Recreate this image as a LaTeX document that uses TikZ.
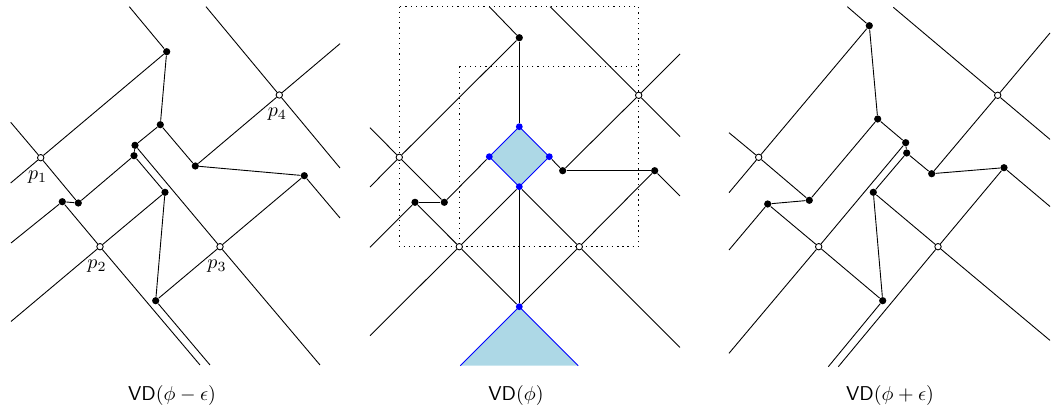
\documentclass[tikz,border=0pt]{standalone}
\usetikzlibrary{backgrounds}
\definecolor{cellblue}{RGB}{173,216,230}
\begin{document}
\begin{tikzpicture}[x=0.5pt,y=-0.5pt,
  edge/.style={line width=0.45pt},
  bdot/.style={circle,fill=black,inner sep=0pt,minimum size=3.6pt},
  odot/.style={circle,draw=black,fill=white,line width=0.45pt,inner sep=0pt,minimum size=3.2pt},
  bldot/.style={circle,fill=blue,inner sep=0pt,minimum size=3.4pt},
  lbl/.style={inner sep=0pt},
  framebox/.style={dotted,line width=0.6pt},
  cell/.style={fill=cellblue,draw=blue,line width=0.45pt}]
\useasboundingbox (0,0) rectangle (1051,410);

% ---------------- panel 1 ----------------
\node[bdot] (A1) at (166.7,51.7) {};
\node[odot] (p1) at (40.7,157.7) {};
\node[bdot] (B1) at (78.3,203) {};
\node[bdot] (C1) at (62.3,201.7) {};
\node[bdot] (D21) at (134,155.7) {};
\node[bdot] (D11) at (135,145.3) {};
\node[bdot] (E1) at (160.3,124.7) {};
\node[bdot] (H1) at (195.3,166) {};
\node[odot] (p4) at (279.3,95) {};
\node[bdot] (I1) at (304.3,175.7) {};
\node[odot] (p3) at (220,246.7) {};
\node[bdot] (F1) at (165,192.3) {};
\node[odot] (p2) at (100,246.7) {};
\node[bdot] (G1) at (155.7,300.7) {};
\coordinate (a1t) at (129.3,6.7);
\coordinate (a1l) at (10.7,183);
\coordinate (p1ul) at (10.7,122.3);
\coordinate (p4ur) at (340,43.7);
\coordinate (p4ul) at (206,6.7);
\coordinate (p4dr) at (340,168);
\coordinate (I1dr) at (340,218);
\coordinate (p3dr) at (320,365);
\coordinate (C1dl) at (11,243);
\coordinate (p2dr) at (200,365);
\coordinate (p2dl) at (11,321.5);
\coordinate (G1dr) at (210,365);
\node[lbl] (lp1) at ([shift={(-3,19)}]p1) {$p_1$};
\node[lbl] (lp2) at ([shift={(-3,19)}]p2) {$p_2$};
\node[lbl] (lp3) at ([shift={(-3,19)}]p3) {$p_3$};
\node[lbl] (lp4) at ([shift={(-2,19)}]p4) {$p_4$};

% ---------------- panel 2 ----------------
\node[bdot] (J) at (519.3,37.7) {};
\node[odot] (q1) at (399.3,157.3) {};
\node[bdot] (N) at (444.3,202.3) {};
\node[bdot] (M) at (415,202.3) {};
\node[odot] (q2) at (459.3,246.7) {};
\node[bldot] (Dt) at (519.3,126.7) {};
\node[bldot] (Dl) at (489.3,156.7) {};
\node[bldot] (Dr) at (549.3,156.7) {};
\node[bldot] (Db) at (519.3,186.7) {};
\node[bdot] (K) at (562.7,170.7) {};
\node[bdot] (L) at (654.7,170.7) {};
\node[odot] (q4) at (638.7,95.3) {};
\node[odot] (q3) at (579.3,246.7) {};
\node[bldot] (V) at (519.3,306.7) {};
\coordinate (Jt) at (489.3,6.7);
\coordinate (q1dl) at (370,187);
\coordinate (q1ul) at (370,127.7);
\coordinate (Mdl) at (370,247.3);
\coordinate (q2dl) at (370,335.7);
\coordinate (q4ur) at (680,54);
\coordinate (q4ul) at (550.3,6.7);
\coordinate (q4dr) at (680,136.6);
\coordinate (Ldr) at (680,196);
\coordinate (q3dr) at (680,347.4);
\coordinate (TL) at (460.3,365.7);
\coordinate (TR) at (578.3,365.7);
\coordinate (R1a) at (399.3,6.7);
\coordinate (R1b) at (638.7,246.7);
\coordinate (R2a) at (459.3,66.7);

% ---------------- panel 3 ----------------
\node[bdot] (A3) at (869.3,25.7) {};
\node[odot] (r1) at (758.7,157.3) {};
\node[bdot] (E3) at (877.7,119) {};
\node[bdot] (B3) at (809.3,200.3) {};
\node[bdot] (C3) at (767.7,204) {};
\node[bdot] (D13) at (905.7,142.7) {};
\node[bdot] (D23) at (906.7,153) {};
\node[bdot] (H3) at (931.7,173.7) {};
\node[odot] (r4) at (997.7,95.3) {};
\node[bdot] (I3) at (1004,167.7) {};
\node[odot] (r3) at (938,246.7) {};
\node[bdot] (F3) at (873.3,192.3) {};
\node[bdot] (G3) at (882.7,300.7) {};
\node[odot] (r2) at (818.7,246.7) {};
\coordinate (A3t) at (847.3,6.7);
\coordinate (r1ul) at (729,132.7);
\coordinate (r1dl) at (729,192.7);
\coordinate (C3dl) at (729,250);
\coordinate (r4ur) at (1050,33);
\coordinate (r4ul) at (893.3,7.3);
\coordinate (r4dr) at (1050,139.4);
\coordinate (I3dr) at (1050,206.5);
\coordinate (r3dr) at (1050,340.4);
\coordinate (r3dl) at (838.3,366.7);
\coordinate (G3dl) at (828.3,366.7);
\coordinate (r2dl) at (729,353.3);

% captions
\node (cap1) at (172,396) {$\mathsf{VD}(\phi-\epsilon)$};
\node (cap2) at (516,396) {$\mathsf{VD}(\phi)$};
\node (cap3) at (890,396) {$\mathsf{VD}(\phi+\epsilon)$};

\begin{scope}[on background layer]
  % blue cells
  \path[cell] (Dt.center) -- (Dr.center) -- (Db.center) -- (Dl.center) -- cycle;
  \path[fill=cellblue] (V.center) -- (TL) -- (TR) -- cycle;
  \draw[blue,line width=0.45pt] (TL) -- (V.center) -- (TR);
  % dotted frames
  \draw[framebox] (R1a) rectangle (R1b);
  \draw[framebox] (R2a) rectangle (R1b);

  % panel 1 edges
  \draw[edge] (a1t) -- (A1);
  \draw[edge] (A1) -- (p1) -- (a1l);
  \draw[edge] (p1ul) -- (p1) -- (B1);
  \draw[edge] (C1) -- (B1);
  \draw[edge] (B1) -- (D21);
  \draw[edge] (D21) -- (D11);
  \draw[edge] (D11) -- (E1);
  \draw[edge] (E1) -- (A1);
  \draw[edge] (E1) -- (H1);
  \draw[edge] (H1) -- (p4) -- (p4ur);
  \draw[edge] (p4ul) -- (p4) -- (p4dr);
  \draw[edge] (H1) -- (I1);
  \draw[edge] (I1) -- (I1dr);
  \draw[edge] (I1) -- (p3) -- (G1);
  \draw[edge] (D11) -- (p3) -- (p3dr);
  \draw[edge] (D21) -- (F1);
  \draw[edge] (C1dl) -- (C1) -- (p2) -- (p2dr);
  \draw[edge] (F1) -- (p2) -- (p2dl);
  \draw[edge] (F1) -- (G1);
  \draw[edge] (G1) -- (G1dr);

  % panel 2 edges
  \draw[edge] (Jt) -- (J);
  \draw[edge] (J) -- (q1) -- (q1dl);
  \draw[edge] (q1ul) -- (q1) -- (N);
  \draw[edge] (M) -- (N);
  \draw[edge] (M) -- (Mdl);
  \draw[edge] (M) -- (q2);
  \draw[edge] (N) -- (Dl);
  \draw[edge] (J) -- (Dt);
  \draw[edge] (Dr) -- (K);
  \draw[edge] (K) -- (L);
  \draw[edge] (K) -- (q4) -- (q4ur);
  \draw[edge] (q4ul) -- (q4) -- (q4dr);
  \draw[edge] (L) -- (Ldr);
  \draw[edge] (L) -- (q3);
  \draw[edge] (Db) -- (q2);
  \draw[edge] (Db) -- (q3);
  \draw[edge] (Db) -- (V);
  \draw[edge] (q2) -- (q2dl);
  \draw[edge] (q2) -- (V);
  \draw[edge] (q3) -- (V);
  \draw[edge] (q3) -- (q3dr);

  % panel 3 edges
  \draw[edge] (A3t) -- (A3);
  \draw[edge] (A3) -- (r1) -- (r1dl);
  \draw[edge] (r1ul) -- (r1) -- (B3);
  \draw[edge] (A3) -- (E3);
  \draw[edge] (E3) -- (B3);
  \draw[edge] (C3) -- (B3);
  \draw[edge] (C3dl) -- (C3) -- (r2);
  \draw[edge] (E3) -- (D13);
  \draw[edge] (D13) -- (D23);
  \draw[edge] (D23) -- (H3);
  \draw[edge] (H3) -- (r4) -- (r4ur);
  \draw[edge] (r4ul) -- (r4) -- (r4dr);
  \draw[edge] (H3) -- (I3);
  \draw[edge] (I3) -- (I3dr);
  \draw[edge] (I3) -- (r3) -- (r3dl);
  \draw[edge] (D13) -- (r2) -- (r2dl);
  \draw[edge] (D23) -- (F3);
  \draw[edge] (F3) -- (r3) -- (r3dr);
  \draw[edge] (F3) -- (G3);
  \draw[edge] (r2) -- (G3) -- (G3dl);
\end{scope}
\end{tikzpicture}
\end{document}
